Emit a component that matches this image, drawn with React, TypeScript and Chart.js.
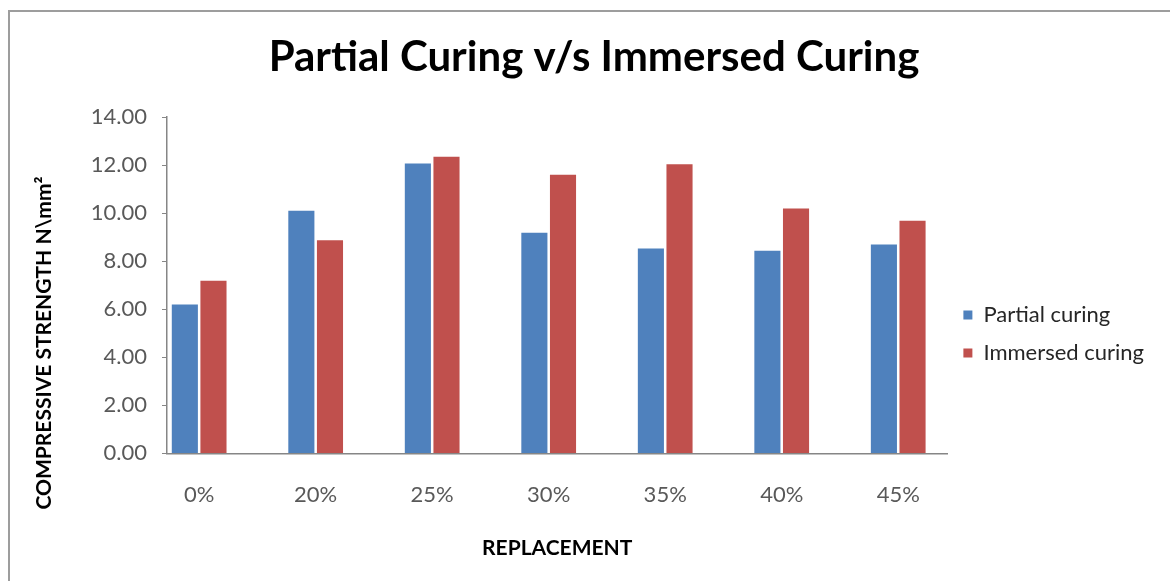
import { useEffect, useRef } from 'react';
import { Chart, registerables } from 'chart.js';

Chart.register(...registerables);

const categories = ['0%', '20%', '25%', '30%', '35%', '40%', '45%'];
const partialCuring = [6.2, 10.1, 12.07, 9.18, 8.53, 8.43, 8.69];
const immersedCuring = [7.18, 8.87, 12.35, 11.6, 12.03, 10.19, 9.68];
const yTickValues = [0, 2, 4, 6, 8, 10, 12, 14];
const seriesNames = ['Partial curing', 'Immersed curing'];
const seriesColors = ['#4F81BD', '#C0504D'];
const chartTitle = 'Partial Curing v/s Immersed Curing';
const xTitle = 'REPLACEMENT';
const yTitle = 'COMPRESSIVE STRENGTH N\\mm²';

const yTitlePlugin = {
  id: 'yTitleDraw',
  afterDraw(chart: any) {
    const { ctx } = chart;
    ctx.save();
    ctx.translate(44, 343);
    ctx.rotate(-Math.PI / 2);
    ctx.font = 'bold 21px Lato';
    ctx.fillStyle = '#000000';
    ctx.textAlign = 'center';
    ctx.textBaseline = 'middle';
    ctx.fillText(yTitle, 0, 0);
    ctx.restore();
  },
};

export default function App() {
  const ref = useRef<HTMLCanvasElement>(null);

  useEffect(() => {
    document.body.style.margin = '0';
    Chart.defaults.font.family = 'Lato, sans-serif';
    const seriesValues = [partialCuring, immersedCuring];
    const chart = new Chart(ref.current as HTMLCanvasElement, {
      type: 'bar',
      data: {
        datasets: seriesValues.map((vals, s) => ({
          label: seriesNames[s],
          data: vals.map((v, i) => ({ x: i, y: v })),
          backgroundColor: seriesColors[s],
          borderWidth: 0,
          categoryPercentage: 0.4914,
          barPercentage: 0.912,
        })),
      },
      options: {
        animation: false,
        responsive: true,
        maintainAspectRatio: false,
        layout: { padding: { left: 34, right: 16, top: 0, bottom: 20 } },
        plugins: {
          title: {
            display: true,
            text: chartTitle,
            color: '#000000',
            font: { size: 42, weight: 'bold' },
            padding: { top: 32, bottom: 34.6 },
          },
          legend: {
            position: 'right',
            title: {
              display: true,
              text: ' ',
              font: { size: 10 },
              padding: { top: 95, bottom: 0 },
            },
            labels: {
              boxWidth: 9,
              boxHeight: 9,
              padding: 16,
              color: '#262626',
              font: { size: 22 },
            },
          },
          tooltip: { enabled: false },
        },
        scales: {
          x: {
            type: 'linear',
            offset: false,
            min: -0.276,
            max: 6.422,
            afterBuildTicks: (axis: any) => {
              axis.ticks = categories.map((_, i) => ({ value: i }));
            },
            ticks: {
              callback: (v: any) => categories[v] ?? '',
              color: '#595959',
              font: { size: 22 },
              padding: 28,
              maxRotation: 0,
              autoSkip: false,
            },
            grid: { display: false, drawTicks: false },
            border: { display: true, color: '#868686', width: 1.5 },
            title: {
              display: true,
              text: xTitle,
              color: '#000000',
              font: { size: 21, weight: 'bold' },
              padding: { top: 0, bottom: 0 },
            },
          },
          y: {
            min: 0,
            max: 14,
            afterBuildTicks: (axis: any) => {
              axis.ticks = yTickValues.map((v) => ({ value: v }));
            },
            afterFit: (axis: any) => {
              axis.width = 133;
            },
            ticks: {
              callback: (v: any) => Number(v).toFixed(2),
              color: '#595959',
              font: { size: 22 },
              padding: 15,
            },
            grid: {
              display: true,
              drawOnChartArea: false,
              drawTicks: true,
              tickLength: 5,
              color: '#868686',
            },
            border: { display: true, color: '#868686', width: 1.5 },
          },
        },
      },
      plugins: [yTitlePlugin],
    } as any);
    return () => chart.destroy();
  }, []);

  return (
    <div style={{ position: 'fixed', left: 0, top: 0, width: 1170, height: 581, background: '#ffffff', overflow: 'hidden' }}>
      <div
        style={{
          position: 'absolute',
          left: 8,
          top: 10,
          width: 1170,
          height: 600,
          borderLeft: '2px solid #9d9d9d',
          borderTop: '2px solid #9d9d9d',
        }}
      />
      <div style={{ position: 'absolute', left: 0, top: 0, width: 1170, height: 581 }}>
        <canvas ref={ref} />
      </div>
    </div>
  );
}
